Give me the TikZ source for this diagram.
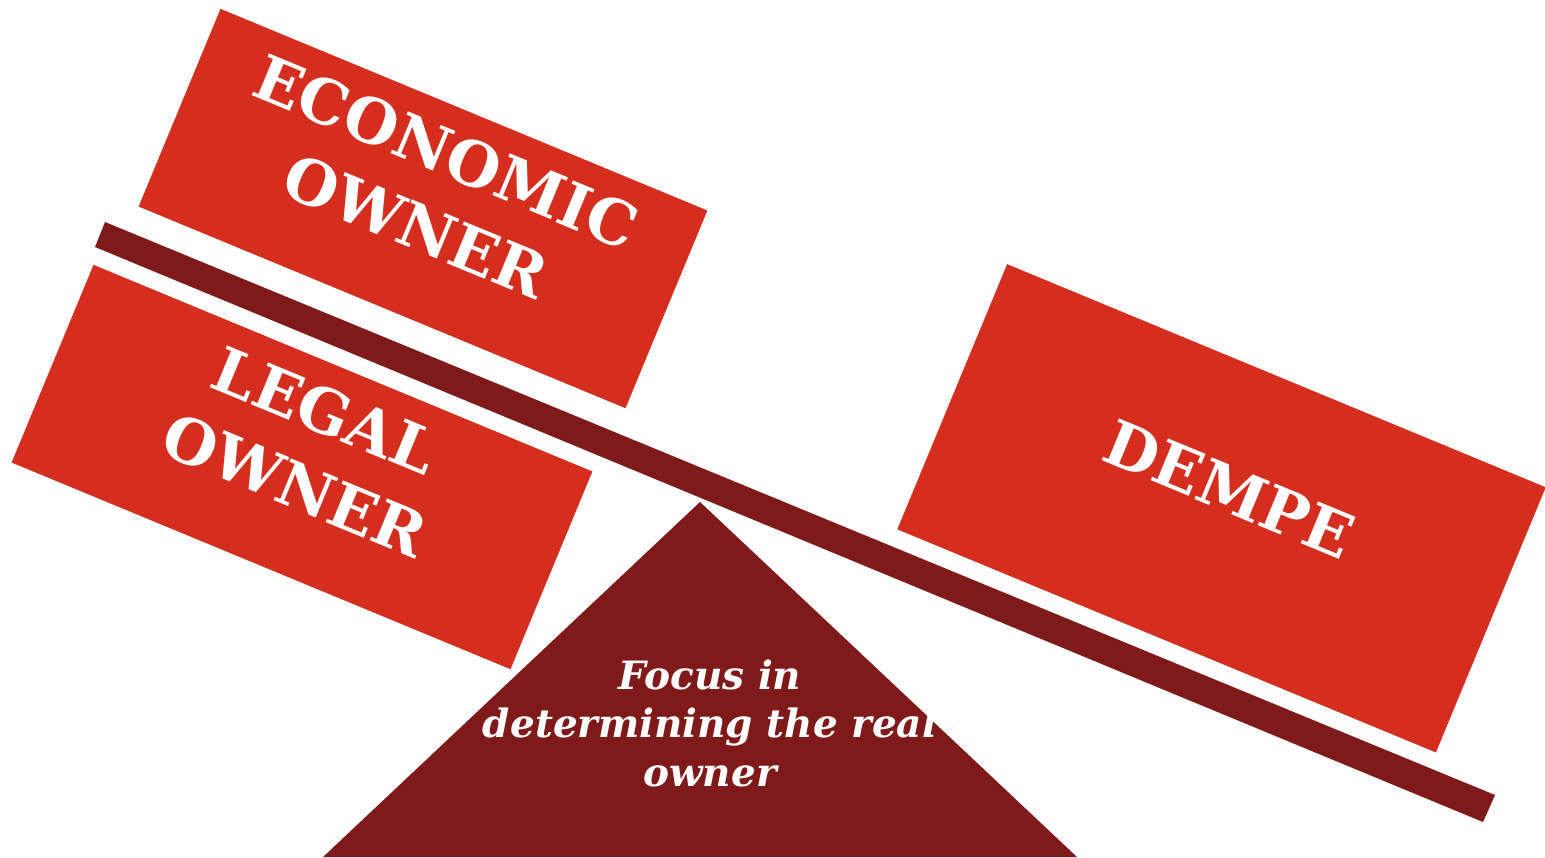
\documentclass[tikz,border=0pt]{standalone}
\usepackage{fontspec}
\setmainfont{DejaVu Serif}
\usetikzlibrary{calc}
\definecolor{boxred}{RGB}{213,46,30}
\definecolor{beamred}{RGB}{128,25,26}
\begin{document}
\begin{tikzpicture}[x=0.5pt,y=0.5pt,
  block/.style={fill=boxred, draw=none, rotate=-22.5, inner sep=0pt, outer sep=0pt},
  caption/.style={text=white, rotate=-22.5, align=center, inner sep=0pt,
    font=\fontsize{31}{40}\selectfont\bfseries},
  focus/.style={text=white, align=center, inner sep=0pt,
    font=\fontsize{19.5}{24.25}\selectfont\bfseries\itshape}]
\useasboundingbox (0,0) rectangle (1545,-857);

% fulcrum
\coordinate (apex) at (700,-502);
\coordinate (baseL) at (323,-857);
\coordinate (baseR) at (1077,-857);
\fill[beamred] (apex) -- (baseR) -- (baseL) -- cycle;

% tilted beam
\coordinate (beamTL) at (105,-222);
\coordinate (beamTR) at (1495,-795);
\coordinate (beamBR) at (1483,-822);
\coordinate (beamBL) at (95,-247);
\fill[beamred] (beamTL) -- (beamTR) -- (beamBR) -- (beamBL) -- cycle;

% weights on the beam
\node[block, minimum width=263.5pt, minimum height=107pt] (econ) at (423,-208.5) {};
\node[block, minimum width=270pt, minimum height=107pt] (legal) at (302,-467) {};
\node[block, minimum width=291.5pt, minimum height=143.5pt] (dempe) at (1221.5,-508.3) {};

\node[caption] (econtext) at ($(econ.center)+(67.5:21)$) {ECONOMIC\\OWNER};
\node[caption] (legaltext) at ($(legal.center)+(67.5:21)$) {LEGAL\\OWNER};
\node[caption] (dempetext) at ($(dempe.center)+(67.5:21)$) {DEMPE};

% label on the fulcrum
\node[focus] (focustext) at (710,-723) {Focus in\\determining the real\\owner};
\end{tikzpicture}
\end{document}
